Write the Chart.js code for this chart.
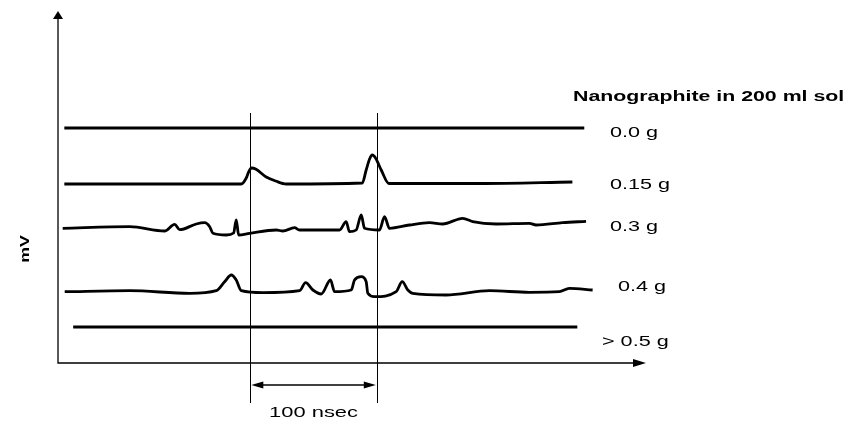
<!DOCTYPE html>
<html>
<head>
<meta charset="utf-8">
<script src="https://cdn.jsdelivr.net/npm/chart.js@4"></script>
<style>
  html, body { margin: 0; padding: 0; background: #fff; }
  canvas { display: block; }
</style>
</head>
<body>
<canvas id="graficoTrazas" width="859" height="421"></canvas>
<script>
// Trazas del osciloscopio: [tiempo en nsec, señal en mV (unidades relativas)]
const traza00 = [[3, 23.5], [414, 23.5]];
const traza015 = [
    [3, 17.9], [142.9, 17.9], [146.8, 18.5], [148.7, 19.1], [151, 19.5], [154.2, 19.4],
    [162.6, 18.6], [170, 18.2], [178.4, 17.9], [238.5, 18.0], [241.6, 19.3], [244.3, 20.4],
    [246.4, 20.8], [249, 20.5], [253.5, 19.3], [259.5, 17.95], [331.2, 17.95], [404.6, 18.1]
];
const traza03 = [
    [1.7, 13.47], [54.7, 13.63], [82.3, 13.2], [90.2, 13.87], [94.2, 13.33], [107.3, 13.9],
    [113.9, 14.03], [117.9, 13.63], [120.5, 12.97], [131, 12.8], [136.8, 13.0], [138.9, 14.3],
    [140.8, 12.8], [149.4, 12.97], [170.5, 13.3], [175.7, 13.2], [185, 13.53], [188.9, 13.3],
    [220.5, 13.3], [225.8, 14.13], [228.4, 13.13], [233.7, 13.3], [237.7, 14.8], [240.3, 13.47],
    [252.1, 13.3], [256.1, 14.63], [260, 13.47], [275.8, 13.8], [291.6, 14.03], [302.1, 13.9],
    [317.9, 14.47], [325.8, 14.13], [344.3, 13.9], [370.6, 13.97], [375.9, 13.8], [396.9, 14.03],
    [415.4, 14.17]
];
const traza04 = [
    [3.3, 7.13], [54.7, 7.23], [102.1, 6.97], [123.1, 7.23], [129.7, 8.13], [135, 8.8],
    [138.9, 8.3], [142.9, 7.23], [160, 7.03], [189, 7.23], [193.7, 8.03], [199.5, 7.3],
    [206.1, 6.9], [213.4, 8.3], [216.6, 7.13], [229.8, 7.3], [232.4, 8.3], [237.7, 8.63],
    [241.6, 8.13], [242.9, 6.97], [248.2, 6.63], [265.3, 7.13], [270.1, 8.13], [274.5, 7.3],
    [278.4, 6.97], [304.8, 6.8], [339, 7.23], [370.6, 7.07], [394.3, 7.13], [402.2, 7.47],
    [420.6, 7.3]
];
const traza05 = [[10, 3.6], [408.5, 3.6]];

const etiquetasDosis = ['0.0 g', '0.15 g', '0.3 g', '0.4 g', '> 0.5 g'];
const tituloLeyenda = 'Nanographite in 200 ml sol';
const etiquetaEjeY = 'mV';
const marcasTiempo = [150, 250]; // nsec
const etiquetaIntervalo = (marcasTiempo[1] - marcasTiempo[0]) + ' nsec';

const trazas = [traza00, traza015, traza03, traza04, traza05];

// Texto estirado en horizontal como en la figura original
function texto(ctx, s, x, y, fuente, escala, alinear) {
    ctx.save();
    ctx.translate(x, y);
    ctx.scale(escala, 1);
    ctx.font = fuente;
    ctx.textAlign = alinear || 'left';
    ctx.textBaseline = 'alphabetic';
    ctx.fillText(s, 0, 0);
    ctx.restore();
}

// Punta de flecha rellena, con el vértice en (x, y) apuntando hacia (dx, dy)
function punta(ctx, x, y, dx, dy, largo, ancho) {
    const px = -dy, py = dx;
    ctx.beginPath();
    ctx.moveTo(x, y);
    ctx.lineTo(x - dx * largo + px * ancho, y - dy * largo + py * ancho);
    ctx.lineTo(x - dx * largo - px * ancho, y - dy * largo - py * ancho);
    ctx.closePath();
    ctx.fill();
}

const anotaciones = {
    id: 'anotaciones',
    afterDraw(chart) {
        const { ctx, chartArea: a, scales: { x, y } } = chart;
        ctx.save();
        ctx.strokeStyle = '#000';
        ctx.fillStyle = '#000';

        // Ejes con flecha
        ctx.lineWidth = 1.3;
        ctx.beginPath();
        ctx.moveTo(a.left, a.top + 6);
        ctx.lineTo(a.left, a.bottom);
        ctx.lineTo(a.right - 8, a.bottom);
        ctx.stroke();
        punta(ctx, a.left, a.top, 0, -1, 8, 5);
        punta(ctx, a.right + 1, a.bottom, 1, 0, 13, 4);

        // Marcas verticales de tiempo
        ctx.lineWidth = 1;
        marcasTiempo.forEach(t => {
            const px = Math.round(x.getPixelForValue(t)) + 0.5;
            ctx.beginPath();
            ctx.moveTo(px, y.getPixelForValue(25));
            ctx.lineTo(px, y.getPixelForValue(-4));
            ctx.stroke();
        });

        // Cota del intervalo entre marcas
        const p0 = x.getPixelForValue(marcasTiempo[0]);
        const p1 = x.getPixelForValue(marcasTiempo[1]);
        const yc = y.getPixelForValue(-2.2);
        ctx.lineWidth = 1.3;
        ctx.beginPath();
        ctx.moveTo(p0 + 8, yc);
        ctx.lineTo(p1 - 8, yc);
        ctx.stroke();
        punta(ctx, p0 + 1, yc, -1, 0, 12, 3.5);
        punta(ctx, p1 - 1, yc, 1, 0, 12, 3.5);

        const fuente = '15px "Liberation Sans", Arial, sans-serif';
        texto(ctx, etiquetaIntervalo, (p0 + p1) / 2, y.getPixelForValue(-5.4), fuente, 1.46, 'center');

        // Leyenda a la derecha de cada traza
        texto(ctx, tituloLeyenda, 573, 100.5, 'bold 14.5px "Liberation Sans", Arial, sans-serif', 1.47);
        const posX = [610, 610, 610, 618, 602];
        const baseY = [137, 189, 231, 291, 346];
        etiquetasDosis.forEach((s, i) => texto(ctx, s, posX[i], baseY[i], fuente, 1.44));

        // Título del eje Y
        ctx.save();
        ctx.translate(25.5, 249);
        ctx.rotate(-Math.PI / 2);
        ctx.scale(1.42, 1);
        ctx.font = 'bold 12.5px "Liberation Sans", Arial, sans-serif';
        ctx.textAlign = 'center';
        ctx.textBaseline = 'middle';
        ctx.fillText(etiquetaEjeY, 0, 0);
        ctx.restore();

        ctx.restore();
    }
};

const ctxTrazas = document.getElementById('graficoTrazas').getContext('2d');
new Chart(ctxTrazas, {
    type: 'line',
    data: {
        datasets: trazas.map((t, i) => ({
            label: etiquetasDosis[i],
            data: t.map(([tx, ty]) => ({ x: tx, y: ty })),
            borderColor: '#000',
            borderWidth: 2.8,
            pointRadius: 0,
            fill: false,
            cubicInterpolationMode: 'monotone'
        }))
    },
    options: {
        responsive: false,
        animation: false,
        layout: { padding: { left: 58, right: 214, top: 11, bottom: 58 } },
        scales: {
            x: { type: 'linear', min: -2, max: 462, display: false },
            y: { min: 0, max: 35.2, display: false }
        },
        plugins: {
            legend: { display: false },
            tooltip: { enabled: false }
        }
    },
    plugins: [anotaciones]
});
</script>
</body>
</html>
